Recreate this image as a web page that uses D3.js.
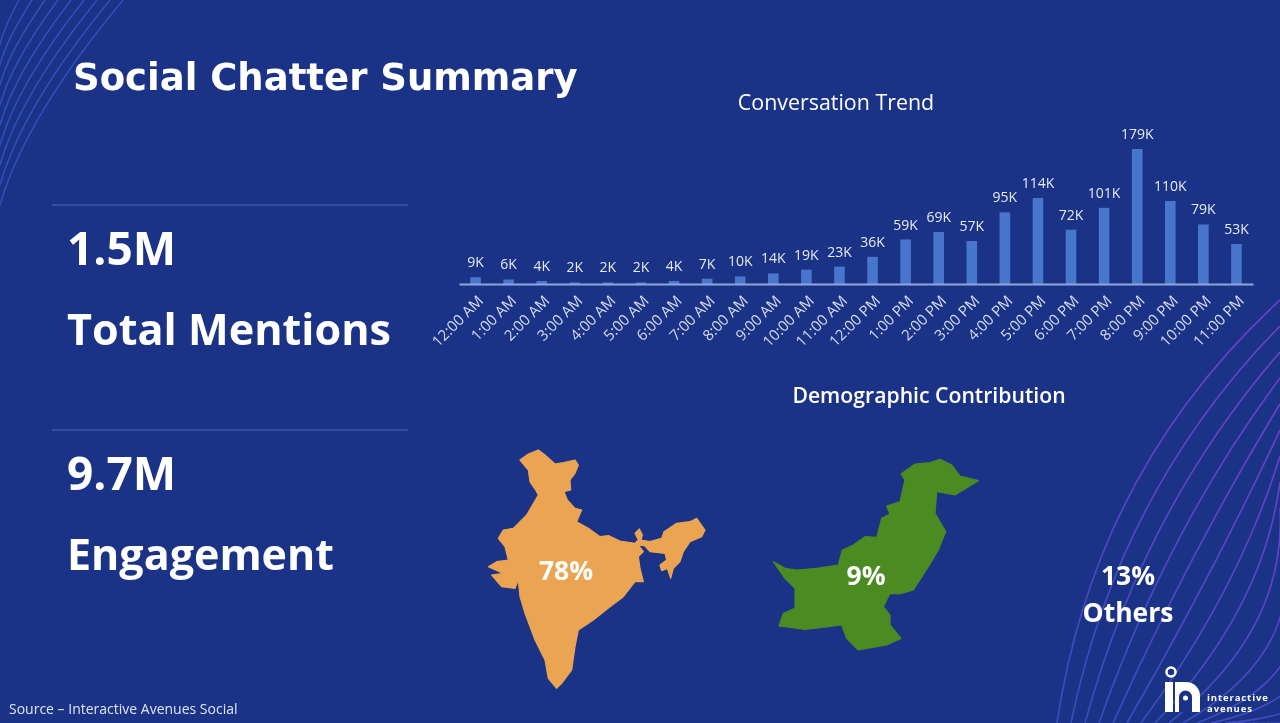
<!DOCTYPE html>
<html>
<head>
<meta charset="utf-8">
<title>Social Chatter Summary</title>
<script src="https://cdn.jsdelivr.net/npm/d3@7"></script>
<style>
html, body { margin: 0; padding: 0; background: #1a3387; overflow: hidden; }
svg { display: block; filter: blur(0.45px); }
text { font-family: "Open Sans", sans-serif; fill: #fff; }
.domain { stroke: #8fa6dc; stroke-width: 2; }
</style>
</head>
<body>
<svg id="chart" width="1280" height="723"></svg>
<script>
var hours = ['12:00 AM','1:00 AM','2:00 AM','3:00 AM','4:00 AM','5:00 AM','6:00 AM','7:00 AM','8:00 AM','9:00 AM','10:00 AM','11:00 AM',
    '12:00 PM','1:00 PM','2:00 PM','3:00 PM','4:00 PM','5:00 PM','6:00 PM','7:00 PM','8:00 PM','9:00 PM','10:00 PM','11:00 PM'];
var mentions = [9,6,4,2,2,2,4,7,10,14,19,23,36,59,69,57,95,114,72,101,179,110,79,53];
var stats = [
    {value: '1.5M', label: 'Total Mentions'},
    {value: '9.7M', label: 'Engagement'}
];
var shares = ['78%', '9%', '13%'];

// map outlines (units are 1/3 px)
var indiaOutline = [[120,60],[145,42],[175,30],[195,45],[225,72],[250,68],[285,60],[295,75],[285,100],[270,120],[272,150],[252,155],[262,180],[285,205],[305,210],[290,245],[325,265],[360,290],[385,287],[420,303],[465,310],[475,300],[465,280],[478,267],[487,285],[483,300],[510,305],[545,295],[552,275],[590,250],[630,245],[650,235],[675,270],[665,290],[630,305],[610,335],[600,365],[580,385],[572,415],[562,385],[545,392],[540,375],[560,360],[555,340],[510,335],[495,318],[475,315],[490,335],[475,350],[480,385],[490,425],[465,425],[430,470],[390,500],[340,540],[295,570],[285,620],[275,690],[245,730],[230,745],[205,715],[195,660],[165,600],[135,520],[120,470],[115,420],[105,445],[65,440],[35,405],[70,400],[25,380],[50,365],[85,360],[75,320],[55,295],[70,270],[100,265],[140,225],[175,165],[170,155],[150,125],[145,90]];
var pakistanOutline = [[25,335],[60,355],[95,360],[155,355],[220,345],[232,300],[265,285],[300,260],[335,262],[350,205],[375,192],[365,168],[405,155],[420,90],[408,72],[450,42],[495,38],[525,28],[560,45],[585,78],[640,92],[570,135],[515,125],[510,190],[542,245],[520,300],[490,350],[445,420],[405,432],[375,430],[355,470],[375,495],[375,525],[408,565],[365,585],[280,600],[245,565],[230,525],[190,530],[120,538],[42,528],[55,490],[90,475],[90,415],[60,385]];

var svg = d3.select('#chart');
var defs = svg.append('defs');
var grad = defs.append('linearGradient').attr('id', 'swoosh')
    .attr('gradientUnits', 'userSpaceOnUse')
    .attr('x1', 1060).attr('y1', 723).attr('x2', 1280).attr('y2', 400);
grad.append('stop').attr('offset', 0).attr('stop-color', '#3050bb');
grad.append('stop').attr('offset', 0.6).attr('stop-color', '#5c43c4');
grad.append('stop').attr('offset', 1).attr('stop-color', '#6e3fc6');

svg.append('rect').attr('width', 1280).attr('height', 723).attr('fill', '#1a3387');

// background swooshes
var bg = svg.append('g').attr('fill', 'none');
d3.range(9).forEach(function(i) {
    bg.append('path')
        .attr('d', 'M' + (123 - 13 * i) + ',0 Q' + (25 - 2.75 * i) + ',' + (118 - 11 * i) + ' 0,' + (205 - 20 * i))
        .attr('stroke', '#3150b8').attr('stroke-width', 1.5);
});
d3.range(18).forEach(function(i) {
    bg.append('path')
        .attr('d', 'M' + (1057 + 14 * i) + ',723 Q' + (1095 + 24 * i) + ',' + (470 + 20 * i) + ' 1280,' + (300 + 26 * i))
        .attr('stroke', 'url(#swoosh)').attr('stroke-width', 1.6);
});

// title
svg.append('text').attr('x', 73).attr('y', 90)
    .style('font-family', '"DejaVu Sans", sans-serif')
    .style('font-weight', 700).style('font-size', '37px')
    .text('Social Chatter Summary');

// left panel
var dividerY = d3.scalePoint().domain(stats.map(function(d) { return d.label; })).range([205, 430]);
var left = svg.selectAll('.stat').data(stats).enter().append('g').attr('class', 'stat')
    .attr('transform', function(d) { return 'translate(0,' + dividerY(d.label) + ')'; });
left.append('line').attr('x1', 52).attr('x2', 408)
    .attr('stroke', '#2f4f9f').attr('stroke-width', 2);
left.append('text').attr('x', 67).attr('y', 60)
    .style('font-size', '46px').style('font-weight', 700)
    .text(function(d) { return d.value; });
left.append('text').attr('x', 67).attr('y', 140)
    .style('font-size', '43px').style('font-weight', 700)
    .attr('textLength', function(d, i) { return i === 0 ? 324 : 267; })
    .attr('lengthAdjust', 'spacingAndGlyphs')
    .text(function(d) { return d.label; });

// bar chart
var x = d3.scaleBand().domain(hours).range([459, 1253]).paddingInner(0.68).paddingOuter(0.34);
var y = d3.scaleLinear().domain([0, 179]).range([284, 149]);

svg.append('text').attr('x', 836).attr('y', 110).attr('text-anchor', 'middle')
    .style('font-size', '21.4px').text('Conversation Trend');

svg.selectAll('.bar').data(mentions).enter().append('rect').attr('class', 'bar')
    .attr('x', function(d, i) { return x(hours[i]); })
    .attr('y', function(d) { return y(d); })
    .attr('width', x.bandwidth())
    .attr('height', function(d) { return y(0) - y(d); })
    .attr('fill', '#4876cd');

svg.selectAll('.val').data(mentions).enter().append('text').attr('class', 'val')
    .attr('x', function(d, i) { return x(hours[i]) + x.bandwidth() / 2; })
    .attr('y', function(d) { return y(d) - 10; })
    .attr('text-anchor', 'middle')
    .style('font-size', '14px').style('fill', '#e6eaf5')
    .text(function(d) { return d + 'K'; });

var xAxis = svg.append('g').attr('transform', 'translate(0,' + y(0) + ')')
    .call(d3.axisBottom(x).tickSize(0).tickPadding(0).tickSizeOuter(0));
xAxis.selectAll('text')
    .attr('text-anchor', 'end')
    .attr('transform', 'translate(5,14) rotate(-45)')
    .attr('dy', '0.35em')
    .style('font-family', '"Open Sans", sans-serif')
    .style('font-size', '15px').style('fill', '#d5dcef');

// demographic maps
svg.append('text').attr('x', 929).attr('y', 403).attr('text-anchor', 'middle')
    .style('font-size', '21.2px').style('font-weight', 600)
    .text('Demographic Contribution');

var outline = d3.line().curve(d3.curveLinearClosed);
function drawMap(points, ox, oy, fill) {
    var mx = d3.scaleLinear().domain([0, 3]).range([ox, ox + 1]);
    var my = d3.scaleLinear().domain([0, 3]).range([oy, oy + 1]);
    svg.append('path')
        .attr('d', outline(points.map(function(p) { return [mx(p[0]), my(p[1])]; })))
        .attr('fill', fill)
        .attr('stroke', fill).attr('stroke-width', 1.2).attr('stroke-linejoin', 'round');
}
drawMap(indiaOutline, 480, 440, '#eba552');
drawMap(pakistanOutline, 765, 450, '#4c8a22');

var big = function(sel) { return sel.attr('text-anchor', 'middle').style('font-size', '26.5px').style('font-weight', 700); };
big(svg.append('text').attr('x', 566).attr('y', 580)).text(shares[0]);
big(svg.append('text').attr('x', 866).attr('y', 585)).text(shares[1]);
big(svg.append('text').attr('x', 1128).attr('y', 585)).text(shares[2]);
big(svg.append('text').attr('x', 1128).attr('y', 622)).text('Others');

// source and logo
svg.append('text').attr('x', 9).attr('y', 714).style('font-size', '14px').style('fill', '#dfe4f2')
    .text('Source \u2013 Interactive Avenues Social');

var logo = svg.append('g');
logo.append('circle').attr('cx', 1171).attr('cy', 672).attr('r', 4.5)
    .attr('fill', 'none').attr('stroke', '#fff').attr('stroke-width', 2.5);
logo.append('rect').attr('x', 1165).attr('y', 682).attr('width', 8).attr('height', 30).attr('fill', '#fff');
logo.append('path').attr('d', 'M1175,712 V682 H1186 A14,14 0 0 1 1200,696 V712 Z').attr('fill', '#fff');
logo.append('path').attr('d', 'M1179,712 V697 A6.5,6.5 0 0 1 1192,697 V712 Z').attr('fill', '#1a3387');
logo.append('circle').attr('cx', 1185.5).attr('cy', 698).attr('r', 2.5).attr('fill', '#fff');
logo.append('text').attr('x', 1207).attr('y', 701).style('font-size', '9.5px').style('font-weight', 700).style('letter-spacing', '0.9px').text('interactive');
logo.append('text').attr('x', 1207).attr('y', 711.5).style('font-size', '9.5px').style('font-weight', 700).style('letter-spacing', '0.9px').text('avenues');
</script>
</body>
</html>
